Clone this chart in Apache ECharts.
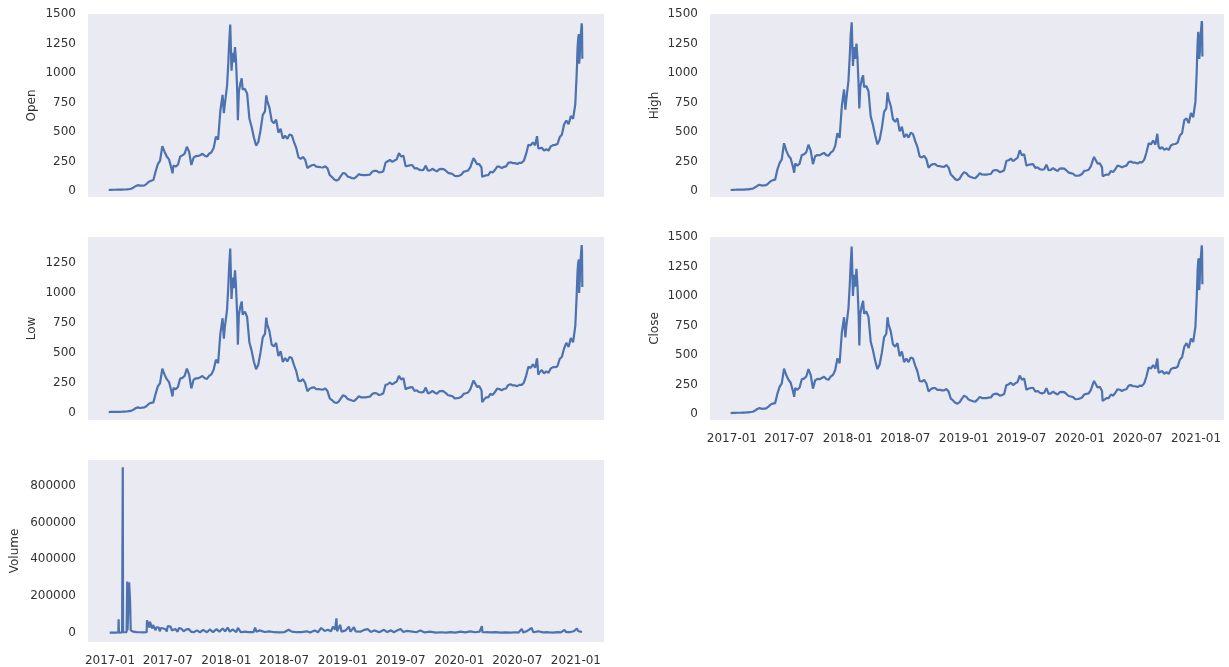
<!DOCTYPE html>
<html>
<head>
<meta charset="utf-8">
<script src="https://cdn.jsdelivr.net/npm/echarts@6/dist/echarts.min.js"></script>
<style>html,body{margin:0;padding:0;background:#fff}#c{width:1229px;height:667px}</style>
</head>
<body>
<div id="c"></div>
<script>
// ---- price sample dates ----
const priceDates = [
'2016-12-28','2017-01-04','2017-01-11','2017-01-18','2017-01-25',
'2017-02-01','2017-02-08','2017-02-15','2017-02-22',
'2017-03-01','2017-03-08','2017-03-15','2017-03-22','2017-03-29',
'2017-04-05','2017-04-12','2017-04-19','2017-04-26',
'2017-05-03','2017-05-10','2017-05-17','2017-05-24','2017-05-31',
'2017-06-07','2017-06-14','2017-06-21','2017-06-28',
'2017-07-05','2017-07-12','2017-07-16','2017-07-19','2017-07-26',
'2017-08-02','2017-08-09','2017-08-16','2017-08-23','2017-08-30',
'2017-09-06','2017-09-13','2017-09-20','2017-09-27',
'2017-10-04','2017-10-11','2017-10-18','2017-10-25',
'2017-11-01','2017-11-08','2017-11-15','2017-11-22','2017-11-29',
'2017-12-06','2017-12-13','2017-12-20','2017-12-24','2017-12-27',
'2018-01-03','2018-01-07','2018-01-10','2018-01-13','2018-01-17','2018-01-21','2018-01-24','2018-01-28','2018-01-31',
'2018-02-04','2018-02-06','2018-02-09','2018-02-14','2018-02-18','2018-02-21','2018-02-28',
'2018-03-07','2018-03-14','2018-03-21','2018-03-28',
'2018-04-04','2018-04-11','2018-04-18','2018-04-25',
'2018-05-02','2018-05-06','2018-05-09','2018-05-16','2018-05-23','2018-05-30',
'2018-06-06','2018-06-13','2018-06-20','2018-06-27',
'2018-07-04','2018-07-11','2018-07-18','2018-07-25',
'2018-08-01','2018-08-08','2018-08-15','2018-08-22','2018-08-29',
'2018-09-05','2018-09-12','2018-09-19','2018-09-26',
'2018-10-03','2018-10-10','2018-10-17','2018-10-24','2018-10-31',
'2018-11-07','2018-11-14','2018-11-21','2018-11-28',
'2018-12-05','2018-12-12','2018-12-19','2018-12-26',
'2019-01-02','2019-01-09','2019-01-16','2019-01-23','2019-01-30',
'2019-02-06','2019-02-13','2019-02-20','2019-02-27',
'2019-03-06','2019-03-13','2019-03-20','2019-03-27',
'2019-04-03','2019-04-10','2019-04-17','2019-04-24',
'2019-05-01','2019-05-08','2019-05-15','2019-05-22','2019-05-29',
'2019-06-05','2019-06-12','2019-06-19','2019-06-26',
'2019-07-03','2019-07-10','2019-07-17','2019-07-24','2019-07-31',
'2019-08-07','2019-08-14','2019-08-21','2019-08-28',
'2019-09-04','2019-09-11','2019-09-18','2019-09-25',
'2019-10-02','2019-10-09','2019-10-16','2019-10-23','2019-10-30',
'2019-11-06','2019-11-13','2019-11-20','2019-11-27',
'2019-12-04','2019-12-11','2019-12-18','2019-12-25',
'2020-01-01','2020-01-08','2020-01-15','2020-01-22','2020-01-29',
'2020-02-05','2020-02-12','2020-02-15','2020-02-19','2020-02-26',
'2020-03-04','2020-03-11','2020-03-13','2020-03-18','2020-03-25',
'2020-04-01','2020-04-08','2020-04-15','2020-04-22','2020-04-29',
'2020-05-06','2020-05-13','2020-05-20','2020-05-27',
'2020-06-03','2020-06-10','2020-06-17','2020-06-24',
'2020-07-01','2020-07-08','2020-07-15','2020-07-22','2020-07-29',
'2020-08-05','2020-08-12','2020-08-19','2020-08-26',
'2020-09-01','2020-09-05','2020-09-09','2020-09-16','2020-09-23','2020-09-30',
'2020-10-07','2020-10-14','2020-10-21','2020-10-28',
'2020-11-04','2020-11-11','2020-11-18','2020-11-25',
'2020-12-02','2020-12-09','2020-12-16','2020-12-23','2020-12-30',
'2021-01-03','2021-01-04','2021-01-06','2021-01-08','2021-01-10','2021-01-11','2021-01-13','2021-01-14','2021-01-16','2021-01-18','2021-01-19','2021-01-20','2021-01-21'
];

const openValues = [
8.1,9.7,10.3,10.4,10.7, 10.7,11.4,12.6,13.1, 16,19,28,41,49, 45,46,48,61, 79,87,93,165,228, 258,380,333,292,
268,198,150,215,207, 223,292,302,316,375, 333,220,282,296, 297,303,316,298, 292,316,328,365,460, 435,680,815,660,735,
890,1090,1270,1410,1020,1170,1090,1220,1110, 840,600,840,915,955,860,865, 825,615,545,455, 385,415,515,645,
675,810,765,705,595,575, 605,495,528,445, 468,442,478,472, 415,365,285,272,288, 265,195,208,218,
222,207,204,201,199, 210,192,135,118, 97,89,98,128,
153,147,123,116,109, 106,121,143,136, 134,135,137,139, 163,171,171,157, 159,168,240,252,263, 247,258,268,320,
292,298,210,213,218, 220,192,194,181, 176,179,215,172, 174,188,176,166,183, 187,186,172,154, 149,144,127,126,
129,139,163,168,174, 203,257,278,272,228, 228,198,120,114,133, 134,163,156,178,207, 206,194,204,209, 238,244,236,236,
229,239,239,258,316, 392,387,412,388, 465,360,348,366,342,354, 342,378,388,391, 398,455,478,565, 598,565,635,612,735,
970,1040,1210,1290,1330,1080,1140,1240,1245,1245,1420,1390,1120
];

const highValues = [
8.3,10.1,10.5,10.8,10.9, 11.1,11.7,13.2,13.5, 18,20,31,44,53, 46,48,50,65, 83,92,96,180,236, 268,405,342,300,
275,205,155,232,215, 232,305,310,328,392, 342,228,294,305, 302,313,323,304, 298,326,338,380,490, 450,720,860,690,770,
940,1150,1330,1430,1060,1220,1120,1250,1140, 880,700,880,950,980,880,890, 845,630,560,470, 395,435,535,670,
700,835,780,720,610,585, 615,505,545,455, 482,452,495,482, 422,372,292,285,298, 270,198,218,228,
228,212,210,206,205, 220,198,140,122, 100,92,105,138,
160,150,127,119,112, 109,126,150,140, 139,138,142,144, 172,178,175,160, 165,176,255,260,275, 253,268,280,345,
302,312,215,222,226, 228,196,200,185, 180,184,222,176, 179,194,180,170,190, 192,189,174,156, 151,146,129,130,
133,144,170,174,180, 210,268,288,280,232, 235,200,125,119,139, 138,170,160,185,216, 210,200,210,215, 245,250,240,240,
232,245,242,266,328, 405,395,428,393, 485,380,358,372,348,361, 348,386,396,398, 410,470,490,600, 615,575,660,625,755,
1000,1100,1260,1350,1340,1120,1180,1270,1260,1270,1440,1420,1140
];

const lowValues = [
7.8,9.5,10.0,10.2,10.4, 10.5,11.0,12.4,12.7, 16,18,27,40,47, 42,45,47,59, 77,85,89,160,222, 250,370,320,282,
258,188,138,210,198, 218,287,293,310,370, 322,205,277,290, 289,298,308,290, 284,310,323,360,445, 415,660,790,620,715,
860,1060,1240,1370,950,1130,1040,1190,1060, 800,570,820,890,930,820,845, 800,590,520,430, 365,405,505,630,
660,795,740,680,570,555, 585,475,515,425, 458,430,468,458, 400,350,270,266,282, 250,182,202,212,
214,198,200,196,195, 205,183,122,108, 90,83,95,123,
148,140,118,111,104, 102,118,140,131, 131,130,134,136, 158,166,165,150, 155,165,235,240,255, 238,252,262,310,
280,290,198,208,214, 216,184,190,175, 171,176,212,164, 171,185,171,160,180, 184,181,166,148, 145,140,122,124,
127,136,160,165,171, 200,252,272,262,218, 224,188,90,110,130, 130,160,151,175,204, 200,190,200,205, 234,240,230,230,
224,235,234,255,312, 385,375,405,378, 455,320,340,358,330,348, 335,372,382,382, 390,450,470,540, 585,550,625,590,725,
960,960,1180,1250,1280,1000,1100,1220,1220,1230,1400,1350,1050
];

const closeValues = [
8.0,9.8,10.2,10.5,10.6, 10.8,11.3,12.8,13.0, 17,19,29,42,50, 44,46,48,62, 80,88,92,170,230, 260,385,330,290,
265,195,145,220,205, 225,295,300,318,380, 330,215,285,298, 295,305,315,296, 290,318,330,370,470, 430,690,820,650,740,
900,1100,1280,1420,1000,1180,1080,1230,1100, 830,580,850,920,960,850,870, 820,610,540,450, 380,420,520,650,
680,820,760,700,590,570, 600,490,530,440, 470,440,480,470, 410,360,280,275,290, 260,190,210,220,
220,205,205,200,200, 212,190,130,115, 95,88,100,130,
155,145,122,115,108, 105,122,145,135, 135,134,138,140, 165,172,170,155, 160,170,245,250,265, 245,260,270,325,
290,300,205,215,220, 222,190,195,180, 175,180,218,170, 175,190,175,165,185, 188,185,170,152, 148,143,125,127,
130,140,165,170,175, 205,260,280,270,225, 230,195,110,115,135, 135,165,155,180,210, 205,195,205,210, 240,245,235,235,
228,240,238,260,320, 395,385,415,385, 470,350,350,365,340,355, 340,380,390,390, 400,460,480,570, 600,560,640,610,740,
980,1050,1220,1300,1320,1050,1150,1250,1240,1250,1430,1380,1100
];

// ---- volume samples ----
const volumeDates = [
'2016-12-31','2017-01-10','2017-01-20','2017-01-27','2017-01-28','2017-01-29','2017-02-08','2017-02-10','2017-02-11',
'2017-02-22','2017-02-24','2017-02-25','2017-03-01','2017-03-02','2017-03-04','2017-03-05','2017-03-07','2017-03-15',
'2017-03-25','2017-04-05','2017-04-15','2017-04-26','2017-04-27','2017-05-03','2017-05-05','2017-05-06','2017-05-12',
'2017-05-14','2017-05-16','2017-05-22','2017-05-24','2017-05-26','2017-06-03','2017-06-06','2017-06-10','2017-06-18',
'2017-06-25','2017-06-28','2017-07-01','2017-07-10','2017-07-14','2017-07-18','2017-07-25','2017-08-01','2017-08-05',
'2017-08-12','2017-08-20','2017-08-28','2017-09-05','2017-09-12','2017-09-20','2017-10-01','2017-10-10','2017-10-20',
'2017-11-01','2017-11-10','2017-11-20','2017-12-01','2017-12-10','2017-12-20','2017-12-28','2018-01-05','2018-01-12',
'2018-01-20','2018-02-01','2018-02-06','2018-02-15','2018-03-01','2018-03-10','2018-03-27','2018-04-01','2018-04-05',
'2018-04-15','2018-05-01','2018-05-15','2018-06-01','2018-06-15','2018-07-01','2018-07-15','2018-07-25','2018-08-10',
'2018-08-25','2018-09-10','2018-09-20','2018-10-05','2018-10-15','2018-10-25','2018-11-05','2018-11-15','2018-11-25',
'2018-12-01','2018-12-08','2018-12-12','2018-12-14','2018-12-24','2018-12-28','2019-01-10','2019-01-20','2019-01-25',
'2019-02-05','2019-02-10','2019-02-25','2019-03-10','2019-03-20','2019-03-30','2019-04-10','2019-04-25','2019-05-10',
'2019-05-20','2019-06-01','2019-06-10','2019-06-20','2019-07-01','2019-07-10','2019-07-20','2019-08-01','2019-08-20',
'2019-09-01','2019-09-15','2019-10-01','2019-10-20','2019-11-05','2019-11-20','2019-12-05','2019-12-20','2020-01-05',
'2020-01-20','2020-02-05','2020-02-20','2020-03-05','2020-03-12','2020-03-14','2020-03-25','2020-04-10','2020-04-25',
'2020-05-10','2020-05-25','2020-06-10','2020-06-25','2020-07-05','2020-07-15','2020-07-20','2020-07-30','2020-08-05',
'2020-08-15','2020-08-20','2020-09-05','2020-09-20','2020-10-05','2020-10-20','2020-11-05','2020-11-15','2020-11-26',
'2020-12-01','2020-12-15','2020-12-25','2021-01-04','2021-01-08','2021-01-11','2021-01-15','2021-01-20'
];
const volumeValues = [
3000,2500,3000,3500,75000,3000,4000,900000,5000,
6000,280000,15000,10000,275000,265000,170000,15000,8000,
6000,5000,4000,5000,70000,65000,30000,62000,55000,
25000,45000,40000,15000,32000,30000,10000,28000,25000,
20000,8000,38000,36000,15000,25000,22000,8000,27000,
25000,10000,20000,22000,8000,5000,15000,4000,18000,
5000,20000,6000,22000,8000,25000,10000,30000,8000,
20000,6000,28000,5000,8000,6000,5000,30000,8000,
15000,6000,10000,5000,4000,5000,18000,8000,5000,
6000,10000,3000,15000,5000,28000,12000,18000,10000,
35000,20000,80000,10000,45000,8000,15000,35000,8000,
32000,10000,8000,18000,22000,6000,15000,5000,18000,
6000,15000,5000,14000,22000,6000,12000,10000,5000,
15000,4000,8000,3000,5000,3000,6000,3000,8000,
4000,10000,5000,8000,38000,6000,5000,4000,6000,
3000,4000,3000,5000,3000,22000,4000,10000,4000,
28000,5000,10000,4000,5000,3000,6000,4000,18000,
5000,6000,10000,25000,12000,20000,8000,6000
];

const priceTicks = [0, 250, 500, 750, 1000, 1250, 1500];
const lowTicks = [0, 250, 500, 750, 1000, 1250];
const volumeTicks = [0, 200000, 400000, 600000, 800000];
const dateTicks = ['2017-01-01','2017-07-01','2018-01-01','2018-07-01','2019-01-01','2019-07-01','2020-01-01','2020-07-01','2021-01-01'];

const panels = [
  {name: 'Open',   values: openValues,  dates: priceDates,  ticks: priceTicks, yMin: -51, yMax: 1500},
  {name: 'High',   values: highValues,  dates: priceDates,  ticks: priceTicks, yMin: -51, yMax: 1500},
  {name: 'Low',    values: lowValues,   dates: priceDates,  ticks: lowTicks,   yMin: -58, yMax: 1467},
  {name: 'Close',  values: closeValues, dates: priceDates,  ticks: priceTicks, yMin: -51, yMax: 1500},
  {name: 'Volume', values: volumeValues, dates: volumeDates, ticks: volumeTicks, yMin: -48000, yMax: 938700}
];
const layout = [
  {left: 88,  top: 14,  width: 516, height: 183, showX: false, nameGap: 50},
  {left: 710, top: 14,  width: 514, height: 183, showX: false, nameGap: 49},
  {left: 88,  top: 237, width: 516, height: 183, showX: false, nameGap: 50},
  {left: 710, top: 237, width: 514, height: 183, showX: true,  nameGap: 49},
  {left: 88,  top: 460, width: 516, height: 185, showX: true,  nameGap: 67}
];

const xMin = Date.parse('2016-10-24');
const xMax = Date.parse('2021-03-30');
const tickTs = dateTicks.map(d => Date.parse(d));
const fmtDate = v => { const d = new Date(v); return d.getUTCFullYear() + '-' + String(d.getUTCMonth() + 1).padStart(2, '0'); };
const fmtNum = v => String(Math.round(v));
const txt = {color: '#333', fontFamily: 'DejaVu Sans', fontSize: 12};

const option = {
  animation: false,
  backgroundColor: '#ffffff',
  grid: layout.map(l => ({left: l.left, top: l.top, width: l.width, height: l.height, show: true, backgroundColor: '#EAEAF2', borderWidth: 0})),
  xAxis: layout.map((l, i) => ({
    type: 'value', gridIndex: i, min: xMin, max: xMax,
    axisLine: {show: false}, axisTick: {show: false}, splitLine: {show: false},
    axisLabel: Object.assign({show: l.showX, customValues: tickTs, formatter: fmtDate, margin: 13}, txt)
  })),
  yAxis: panels.map((p, i) => ({
    type: 'value', gridIndex: i, min: p.yMin, max: p.yMax,
    name: p.name, nameLocation: 'middle', nameGap: layout[i].nameGap, nameRotate: 90,
    nameTextStyle: txt,
    axisLine: {show: false}, axisTick: {show: false}, splitLine: {show: false},
    axisLabel: Object.assign({customValues: p.ticks, formatter: fmtNum, margin: 12}, txt)
  })),
  series: panels.map((p, i) => ({
    type: 'line', xAxisIndex: i, yAxisIndex: i, showSymbol: false, symbol: 'none',
    lineStyle: {color: '#4C72B0', width: 2.2}, itemStyle: {color: '#4C72B0'},
    data: p.dates.map((d, k) => [Date.parse(d), p.values[k]])
  }))
};

const chart = echarts.init(document.getElementById('c'), null, {renderer: 'canvas'});
chart.setOption(option);
</script>
</body>
</html>
